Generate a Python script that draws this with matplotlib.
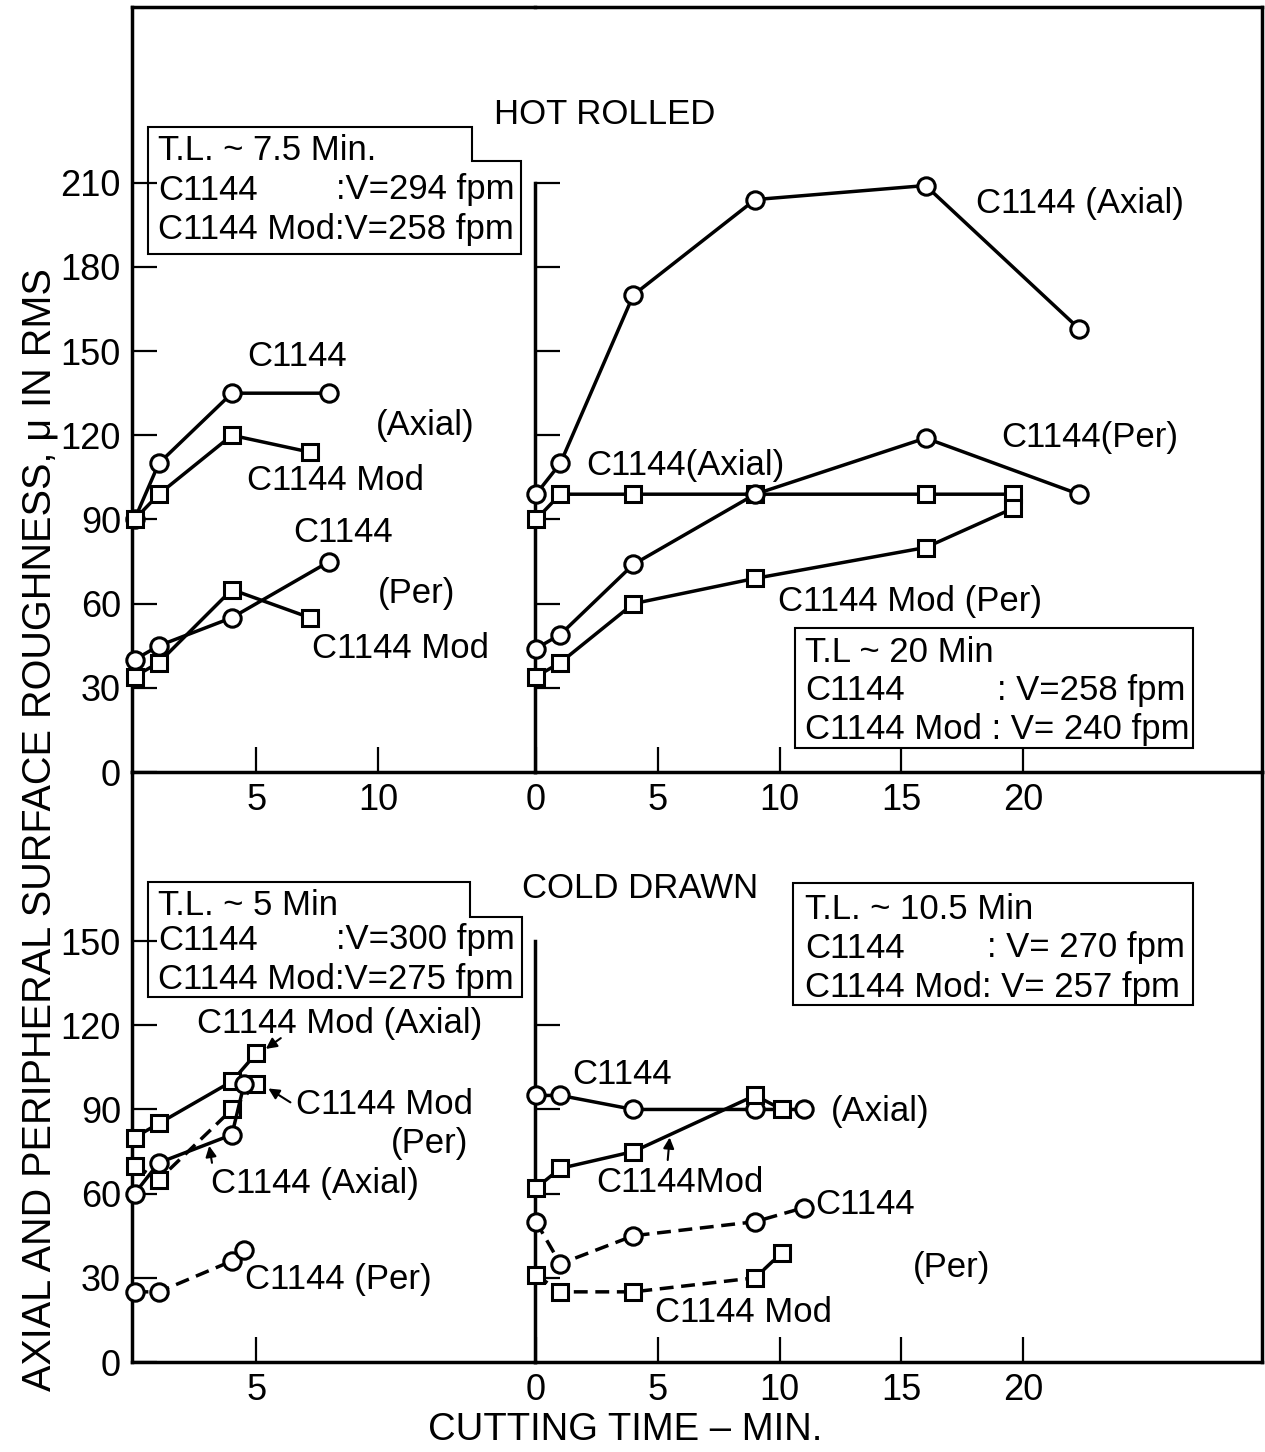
import matplotlib.pyplot as plt
from matplotlib.patches import Polygon

plt.rcParams['font.family'] = ['Liberation Sans', 'DejaVu Sans']

# ---- data (cutting time in min, roughness in micro-in RMS) ----
# hot rolled, T.L. ~ 7.5 min block
hr1_t = [0, 1, 4, 8]
hr1_c1144_axial = [90, 110, 135, 135]
hr1_mod_t = [0, 1, 4, 7.2]
hr1_mod_axial = [90, 99, 120, 114]
hr1_c1144_per = [40, 45, 55, 75]
hr1_mod_per = [34, 39, 65, 55]

# hot rolled, T.L. ~ 20 min block
hr2_t = [0, 1, 4, 9, 16, 22.3]
hr2_c1144_axial = [99, 110, 170, 204, 209, 158]
hr2_c1144_per = [44, 49, 74, 99, 119, 99]
hr2_mod_t = [0, 1, 4, 9, 16, 19.6]
hr2_mod_axial = [90, 99, 99, 99, 99, 99]
hr2_mod_per = [34, 39, 60, 69, 80, 94]

# cold drawn, T.L. ~ 5 min block
cd1_t = [0, 1, 4, 4.5]
cd1_c1144_axial = [60, 71, 81, 99]
cd1_c1144_per = [25, 25, 36, 40]
cd1_mod_t = [0, 1, 4, 5]
cd1_mod_axial = [80, 85, 100, 110]
cd1_mod_per = [70, 65, 90, 99]

# cold drawn, T.L. ~ 10.5 min block
cd2_t = [0, 1, 4, 9, 11]
cd2_c1144_axial = [95, 95, 90, 90, 90]
cd2_c1144_per = [50, 35, 45, 50, 55]
cd2_mod_t = [0, 1, 4, 9, 10.1]
cd2_mod_axial = [62, 69, 75, 95, 90]
cd2_mod_per = [31, 25, 25, 30, 39]

W, H = 1265, 1452
fig = plt.figure(figsize=(W / 100, H / 100), dpi=100)
LW = 2.5
FS = 25


def px(x, y):
    return x / W, 1 - y / H


def make_ax(x0, y0, x1, y1, x_zero, y_zero, xs, ys):
    ax = fig.add_axes([x0 / W, 1 - y1 / H, (x1 - x0) / W, (y1 - y0) / H])
    ax.set_facecolor('none')
    ax.set_xlim((x0 - x_zero) / xs, (x1 - x_zero) / xs)
    ax.set_ylim((y_zero - y1) / ys, (y_zero - y0) / ys)
    for s in ax.spines.values():
        s.set_linewidth(LW)
        s.set_visible(False)
    ax.tick_params(direction='in', length=18, width=1.6, labelsize=26, pad=8)
    return ax


def series(ax, t, y, marker, dashed=False):
    ms = 12.5 if marker == 'o' else 11
    ln, = ax.plot(t, y, color='black', lw=LW, marker=marker, ms=ms,
                  mfc='white', mec='black', mew=2.2, clip_on=False, zorder=3)
    if dashed:
        ln.set_dashes([4, 2.2])
    return ln


X0, XM, X1 = 132, 535, 1262
Y0, YM, Y1 = 7, 772, 1362
XS = 24.35
YS = 2.806

# top left
ax1 = make_ax(X0, Y0, XM, YM, 134.5, YM, XS, YS)
for k in ('left', 'top', 'bottom'):
    ax1.spines[k].set_visible(True)
ax1.set_yticks(range(0, 211, 30))
ax1.set_xticks([5, 10])
series(ax1, hr1_t, hr1_c1144_axial, 'o')
series(ax1, hr1_mod_t, hr1_mod_axial, 's')
series(ax1, hr1_t, hr1_c1144_per, 'o')
series(ax1, hr1_mod_t, hr1_mod_per, 's')

# top right
ax2 = make_ax(XM, Y0, X1, YM, 536, YM, XS, YS)
for k in ('left', 'top', 'bottom', 'right'):
    ax2.spines[k].set_visible(True)
ax2.spines['left'].set_bounds(0, 210)
ax2.set_yticks(range(30, 211, 30))
ax2.tick_params(axis='y', labelleft=False)
ax2.set_xticks([0, 5, 10, 15, 20])
series(ax2, hr2_t, hr2_c1144_axial, 'o')
series(ax2, hr2_mod_t, hr2_mod_axial, 's')
series(ax2, hr2_t, hr2_c1144_per, 'o')
series(ax2, hr2_mod_t, hr2_mod_per, 's')

# bottom left
ax3 = make_ax(X0, YM, XM, Y1, 134.5, Y1, XS, YS)
for k in ('left', 'bottom'):
    ax3.spines[k].set_visible(True)
ax3.set_yticks(range(0, 151, 30))
ax3.set_xticks([5])
series(ax3, cd1_mod_t, cd1_mod_axial, 's')
series(ax3, cd1_mod_t, cd1_mod_per, 's', dashed=True)
series(ax3, cd1_t, cd1_c1144_axial, 'o')
series(ax3, cd1_t, cd1_c1144_per, 'o', dashed=True)

# bottom right
ax4 = make_ax(XM, YM, X1, Y1, 536, Y1, XS, YS)
for k in ('left', 'bottom', 'right'):
    ax4.spines[k].set_visible(True)
ax4.spines['left'].set_bounds(0, 150)
ax4.set_yticks(range(30, 121, 30))
ax4.tick_params(axis='y', labelleft=False)
ax4.set_xticks([0, 5, 10, 15, 20])
series(ax4, cd2_t, cd2_c1144_axial, 'o')
series(ax4, cd2_mod_t, cd2_mod_axial, 's')
series(ax4, cd2_t, cd2_c1144_per, 'o', dashed=True)
series(ax4, cd2_mod_t, cd2_mod_per, 's', dashed=True)

# arrows
arr = dict(arrowstyle='-|>', lw=1.5, color='black', mutation_scale=16)
ax3.annotate('', xy=(5.3, 111), xytext=(6.1, 116), arrowprops=arr)
ax3.annotate('', xy=(5.4, 98), xytext=(6.5, 92), arrowprops=arr)
ax3.annotate('', xy=(3.05, 78), xytext=(3.2, 70), arrowprops=arr)
ax4.annotate('', xy=(5.5, 81), xytext=(5.4, 71), arrowprops=arr)


def label(x, y, s, **kw):
    kw.setdefault('ha', 'center')
    kw.setdefault('fontsize', FS)
    fig.text(*px(x, y), s, va='center', **kw)


label(605, 115, 'HOT ROLLED')
label(640, 888, 'COLD DRAWN')

# curve labels
label(297, 357, 'C1144')
label(425, 425, '(Axial)')
label(335, 480, 'C1144 Mod')
label(343, 533, 'C1144')
label(417, 593, '(Per)')
label(400, 648, 'C1144 Mod')
label(1080, 203, 'C1144 (Axial)')
label(685, 465, 'C1144(Axial)')
label(1090, 438, 'C1144(Per)')
label(910, 602, 'C1144 Mod (Per)')
label(340, 1024, 'C1144 Mod (Axial)')
label(385, 1105, 'C1144 Mod')
label(430, 1143, '(Per)')
label(315, 1183, 'C1144 (Axial)')
label(338, 1280, 'C1144 (Per)')
label(622, 1075, 'C1144')
label(880, 1112, '(Axial)')
label(680, 1182, 'C1144Mod')
label(865, 1205, 'C1144')
label(952, 1268, '(Per)')
label(743, 1312, 'C1144 Mod')


# tool-life boxes
def box(pts):
    fig.patches.append(Polygon([px(x, y) for x, y in pts], closed=True,
                               fill=False, lw=1.5, ec='black',
                               transform=fig.transFigure))


box([(148, 127), (472, 127), (472, 161), (521, 161), (521, 254), (148, 254)])
label(158, 150, 'T.L. ~ 7.5 Min.', ha='left')
label(158, 190, 'C1144', ha='left')
label(515, 190, ':V=294 fpm', ha='right')
label(158, 230, 'C1144 Mod:V=258 fpm', ha='left')

box([(795, 628), (1193, 628), (1193, 748), (795, 748)])
label(805, 652, 'T.L ~ 20 Min', ha='left')
label(805, 690, 'C1144', ha='left')
label(1185, 690, ': V=258 fpm', ha='right')
label(805, 730, 'C1144 Mod : V= 240 fpm', ha='left')

box([(148, 882), (470, 882), (470, 917), (522, 917), (522, 997), (148, 997)])
label(158, 905, 'T.L. ~ 5 Min', ha='left')
label(158, 940, 'C1144', ha='left')
label(515, 940, ':V=300 fpm', ha='right')
label(158, 980, 'C1144 Mod:V=275 fpm', ha='left')

box([(793, 883), (1193, 883), (1193, 1005), (793, 1005)])
label(805, 910, 'T.L. ~ 10.5 Min', ha='left')
label(805, 948, 'C1144', ha='left')
label(1185, 948, ': V= 270 fpm', ha='right')
label(805, 988, 'C1144 Mod: V= 257 fpm', ha='left')

# axis titles
fig.text(*px(40, 830), 'AXIAL AND PERIPHERAL SURFACE ROUGHNESS, \u03bc IN RMS',
         rotation=90, fontsize=28.5, ha='center', va='center')
label(625, 1430, 'CUTTING TIME \u2013 MIN.', fontsize=27.5)

fig.savefig('out.png', dpi=100)
